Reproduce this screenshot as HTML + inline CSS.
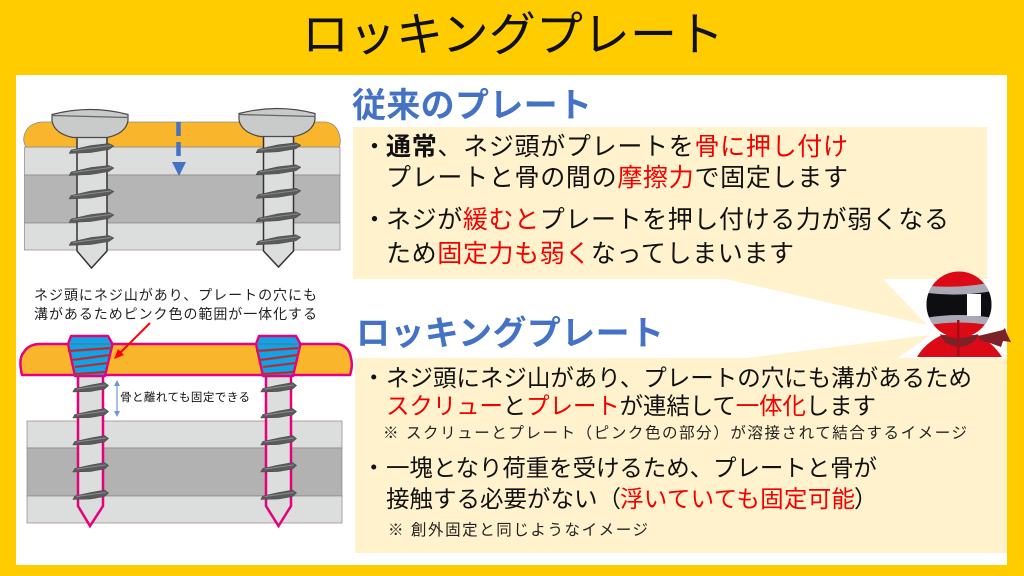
<!DOCTYPE html>
<html lang="ja"><head><meta charset="utf-8"><title>ロッキングプレート</title>
<style>
html,body{margin:0;padding:0;background:#ffcc00;width:1024px;height:576px;overflow:hidden}
svg{display:block}
text{font-family:"Liberation Sans","Noto Sans CJK JP",sans-serif;fill:#111;white-space:pre}
.r{fill:#f00000}
.h{font-size:34px;font-weight:700;fill:#4472c4}
.b{font-size:25px}
.c{font-size:23.5px}
.s{font-size:15.5px;fill:#222}
.n{font-size:14px;fill:#222}
</style></head><body>
<svg width="1024" height="576" viewBox="0 0 1024 576" xmlns="http://www.w3.org/2000/svg">
<defs>
<g id="th">
<polygon points="0,0.500 2,-3 22,-7.500 40,-9.500 45,-7 40,-3.500 22,-0.500" fill="#5a5a5a" stroke="#484848" stroke-width=".5"/>
<line x1="4" y1="-2.500" x2="42" y2="-7.500" stroke="#8c8c8c" stroke-width=".9"/>
</g>
<g id="thb">
<polygon points="0,0.500 2,-3 18,-6.500 32,-9 36,-6 32,-2.500 18,0" fill="#5a5a5a" stroke="#484848" stroke-width=".5"/>
<line x1="4" y1="-2.500" x2="33" y2="-6.500" stroke="#8c8c8c" stroke-width=".9"/>
</g>
<g id="threads">
<use href="#th" x="0" y="0"/><use href="#th" x="0" y="22"/><use href="#th" x="0" y="45.500"/><use href="#th" x="0" y="69"/><use href="#th" x="0" y="92"/>
</g>
<g id="threadsb">
<use href="#thb" x="0" y="0"/><use href="#thb" x="0" y="26"/><use href="#thb" x="0" y="53"/><use href="#thb" x="0" y="80"/><use href="#thb" x="0" y="107.500"/>
</g>
<g id="head">
<path d="M0,7 Q38,-3 76,7 L76,13 Q74,26 55,30 L21,30 Q2,26 0,13 Z" fill="#c9cbcb" stroke="#4a4a4a" stroke-width="1.200"/>
<line x1="0" y1="8" x2="76" y2="10" stroke="#666" stroke-width="1.300"/>
</g>
<g id="lockhead">
<polygon points="2,0 39,0 43.500,8 36,40 6,40 -1,8" fill="#12a3e6" stroke="#e6007e" stroke-width="2.400" stroke-linejoin="round"/>
<g stroke="#c8202c" stroke-width="2"><line x1="-1" y1="15" x2="41" y2="12"/><line x1="3" y1="24" x2="40" y2="19"/><line x1="6" y1="31" x2="38" y2="27"/><line x1="6" y1="38" x2="36" y2="36"/></g>
<g stroke="#666" stroke-width=".8"><line x1="1" y1="8" x2="42" y2="8"/><line x1="-1" y1="16" x2="43" y2="13"/><line x1="3" y1="25" x2="41" y2="20"/><line x1="5" y1="32" x2="39" y2="28"/><line x1="5" y1="39" x2="37" y2="37"/></g>
</g>
<clipPath id="hc"><ellipse cx="959" cy="304.500" rx="32.500" ry="33"/></clipPath>
</defs>

<rect width="1024" height="576" fill="#ffcc00"/>
<rect x="16" y="75" width="991" height="490" fill="#fff"/>

<text x="302" y="51" font-size="47" textLength="422" lengthAdjust="spacing">ロッキングプレート</text>

<!-- bubbles -->
<polygon points="725,279 927,325 883,279" fill="#fff2cc"/>
<rect x="353" y="127" width="634" height="152" fill="#fff2cc"/>
<polygon points="746,358 930,335 898,358" fill="#fff2cc"/>
<rect x="355" y="358" width="652" height="195" fill="#fff2cc"/>

<!-- top diagram -->
<rect x="24.500" y="147" width="315.500" height="28" fill="#dcdddd" stroke="#8f8480" stroke-width=".7"/>
<rect x="24.500" y="175" width="315.500" height="48" fill="#b4b5b4" stroke="#8f8480" stroke-width=".7"/>
<rect x="24.500" y="223" width="315.500" height="27" fill="#dcdddd" stroke="#8f8480" stroke-width=".7"/>
<path d="M26,147 Q22,140 25,133 Q29,123 42,122 L326,122 Q338,124 340,138 Q341,143 339,147 Z" fill="#f9b52c" stroke="#8a8a80" stroke-width=".8"/>
<g fill="#dcdddd" stroke="#333" stroke-width="1.500">
<path d="M77,137 V251 L91.500,268 L107,251 V137"/>
<path d="M263.500,137 V251 L278.500,267 L293.500,251 V137"/>
</g>
<use href="#threads" x="69" y="153"/>
<use href="#threads" x="256" y="152.300"/>
<use href="#head" x="52" y="107.500"/>
<use href="#head" x="239" y="106.500"/>
<path d="M178.500,122 V156" stroke="#4472c4" stroke-width="4.500" stroke-dasharray="14 6" fill="none"/>
<polygon points="172,162 186,162 179,176" fill="#4472c4"/>

<!-- bottom diagram -->
<rect x="27" y="421" width="315" height="27" fill="#dcdddd" stroke="#8f8480" stroke-width=".7"/>
<rect x="27" y="448" width="315" height="48" fill="#b1b2b1" stroke="#8f8480" stroke-width=".7"/>
<rect x="27" y="496" width="315" height="27" fill="#dcdddd" stroke="#8f8480" stroke-width=".7"/>
<g fill="#dcdddd" stroke="#e6007e" stroke-width="2.500">
<path d="M78,372 V506 L90,526 L103,506 V372"/>
<path d="M266,372 V506 L278.500,526 L291,506 V372"/>
</g>
<use href="#threadsb" x="72.700" y="391.500"/>
<use href="#threadsb" x="260.700" y="391.500"/>
<path d="M22,375 Q18,358 24,352 Q28,345 38,344 L338,344 Q349,346 351,358 Q353,366 350,375 Z" fill="#f9b52c" stroke="#e6007e" stroke-width="2.500" stroke-linejoin="round"/>
<use href="#lockhead" x="69" y="336"/>
<use href="#lockhead" x="257" y="336"/>
<line x1="150" y1="323" x2="119" y2="354" stroke="#f00" stroke-width="2"/>
<polygon points="114,359 118,349 124,355" fill="#f00"/>
<line x1="117" y1="383" x2="117" y2="414" stroke="#6f95d8" stroke-width="1.200"/>
<polygon points="114,386 120,386 117,380" fill="#6f95d8"/>
<polygon points="114,411 120,411 117,417" fill="#6f95d8"/>

<text class="n" x="34" y="300" textLength="283" lengthAdjust="spacing">ネジ頭にネジ山があり、プレートの穴にも</text>
<text class="n" x="34" y="319" textLength="283" lengthAdjust="spacing">溝があるためピンク色の範囲が一体化する</text>
<text x="120" y="401" font-size="11.500" fill="#222" textLength="130" lengthAdjust="spacing">骨と離れても固定できる</text>

<!-- headings -->
<text class="h" x="352" y="117" textLength="240" lengthAdjust="spacing">従来のプレート</text>
<text class="h" x="356" y="345" textLength="308" lengthAdjust="spacing">ロッキングプレート</text>

<!-- upper text -->
<text class="b" x="362" y="155">・</text>
<text class="b" x="386" y="155" textLength="462" lengthAdjust="spacing"><tspan font-weight="700">通常</tspan>、ネジ頭がプレートを<tspan class="r">骨に押し付け</tspan></text>
<text class="b" x="386" y="186" textLength="462" lengthAdjust="spacing">プレートと骨の間の<tspan class="r">摩擦力</tspan>で固定します</text>
<text class="b" x="362" y="228">・</text>
<text class="b" x="386" y="228" textLength="563" lengthAdjust="spacing">ネジが<tspan class="r">緩むと</tspan>プレートを押し付ける力が弱くなる</text>
<text class="b" x="386" y="262" textLength="408" lengthAdjust="spacing">ため<tspan class="r">固定力も弱く</tspan>なってしまいます</text>

<!-- lower text -->
<text class="c" x="362" y="386">・</text>
<text class="c" x="386" y="386" textLength="586" lengthAdjust="spacing">ネジ頭にネジ山があり、プレートの穴にも溝があるため</text>
<text class="c" x="386" y="414" textLength="490" lengthAdjust="spacing"><tspan class="r">スクリュー</tspan>と<tspan class="r">プレート</tspan>が連結して<tspan class="r">一体化</tspan>します</text>
<text class="s" x="383" y="438" textLength="584" lengthAdjust="spacing">※ スクリューとプレート（ピンク色の部分）が溶接されて結合するイメージ</text>
<text class="c" x="362" y="476">・</text>
<text class="c" x="386" y="476" textLength="491" lengthAdjust="spacing">一塊となり荷重を受けるため、プレートと骨が</text>
<text class="c" x="386" y="507">接触する必要がない（</text>
<text class="c r" x="620" y="507" textLength="235" lengthAdjust="spacing">浮いていても固定可能</text>
<text class="c" x="854" y="507">）</text>
<text class="s" x="388" y="535" textLength="260" lengthAdjust="spacing">※ 創外固定と同じようなイメージ</text>

<!-- character -->
<path d="M917,357 Q925,343 942,335 L978,335 Q993,343 1002,357 Z" fill="#db0a16"/>
<polygon points="978,336 1003,330 1005,328 1007,334 1011,342 1003,341 1001,347 990,343 980,340" fill="#7a2228"/>
<ellipse cx="959" cy="304.500" rx="32.500" ry="33" fill="#db0a16"/>
<g clip-path="url(#hc)">
<path d="M920,285 Q959,290 998,281 L998,327 Q959,318 920,327 Z" fill="#a9a9b6"/>
<path d="M920,292 Q959,298 998,290 L998,319 Q959,311 920,319 Z" fill="#0e0d12"/>
<rect x="967" y="294" width="14" height="22" fill="#fff"/>
</g>
<path d="M940,334 Q959,342 978,334 Q976,345 959,347 Q944,346 940,334 Z" fill="#7a2228"/>
<rect x="957" y="320" width="2.500" height="37" fill="#a50d15"/>
</svg>
</body></html>
